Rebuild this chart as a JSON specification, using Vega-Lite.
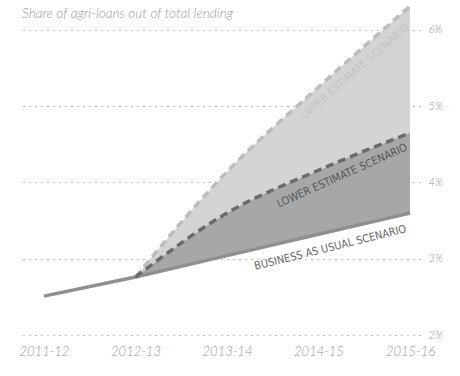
{
  "$schema": "https://vega.github.io/schema/vega-lite/v6.json",
  "width": 400,
  "height": 328,
  "autosize": {"type": "none"},
  "padding": {"left": 20, "top": 7, "right": 40, "bottom": 41},
  "background": "white",
  "config": {"view": {"stroke": null}},
  "datasets": {
    "series": [
      {"year": "2011-12", "t": 0, "bau": 2.51, "lower": null, "upper": null},
      {"year": "2012-13", "t": 1, "bau": 2.76, "lower": 2.76, "upper": 2.76},
      {"year": "2013-14", "t": 2, "bau": 3.04, "lower": 3.6, "upper": 4.14},
      {"year": "2014-15", "t": 3, "bau": 3.32, "lower": 4.16, "upper": 5.25},
      {"year": "2015-16", "t": 4, "bau": 3.6, "lower": 4.65, "upper": 6.31}
    ]
  },
  "layer": [
    {
      "data": {"name": "series"},
      "transform": [{"filter": "datum.upper != null"}],
      "mark": {"type": "area", "color": "#d4d4d4", "interpolate": "monotone", "clip": false},
      "encoding": {
        "x": {
          "field": "t", "type": "quantitative",
          "scale": {"domain": [-0.262, 4.109], "nice": false, "zero": false},
          "axis": {
            "values": [0, 1, 2, 3, 4],
            "labelExpr": "['2011-12','2012-13','2013-14','2014-15','2015-16'][datum.value]",
            "title": null, "domain": false, "ticks": false, "grid": false,
            "labelFont": "Lato", "labelFontSize": 13, "labelFontStyle": "italic", "labelFontWeight": 300,
            "labelColor": "#9a9a9a", "labelPadding": 10, "labelFlush": false
          }
        },
        "y": {
          "field": "upper", "type": "quantitative",
          "scale": {"domain": [2, 6.3], "nice": false, "zero": false},
          "axis": {
            "orient": "right",
            "values": [2, 3, 4, 5, 6],
            "labelExpr": "datum.value + '%'",
            "title": null, "domain": false, "ticks": false,
            "grid": true, "gridDash": [1, 5], "gridColor": "#8a8a8a", "gridWidth": 1,
            "labelFont": "Lato", "labelFontSize": 11, "labelFontStyle": "italic", "labelFontWeight": 300,
            "labelColor": "#9a9a9a", "labelPadding": 8, "labelAlign": "left"
          }
        },
        "y2": {"field": "lower"}
      }
    },
    {
      "data": {"name": "series"},
      "transform": [{"filter": "datum.lower != null"}],
      "mark": {"type": "area", "color": "#a7a7a7", "interpolate": "monotone"},
      "encoding": {
        "x": {"field": "t", "type": "quantitative"},
        "y": {"field": "lower", "type": "quantitative"},
        "y2": {"field": "bau"}
      }
    },
    {
      "data": {"name": "series"},
      "mark": {"type": "line", "color": "#8f8f8f", "strokeWidth": 3.5},
      "encoding": {
        "x": {"field": "t", "type": "quantitative"},
        "y": {"field": "bau", "type": "quantitative"}
      }
    },
    {
      "data": {"name": "series"},
      "transform": [{"filter": "datum.upper != null"}],
      "mark": {"type": "line", "color": "#bcbcbc", "strokeWidth": 3.5, "strokeDash": [8, 5], "interpolate": "monotone", "clip": false},
      "encoding": {
        "x": {"field": "t", "type": "quantitative"},
        "y": {"field": "upper", "type": "quantitative"}
      }
    },
    {
      "data": {"name": "series"},
      "transform": [{"filter": "datum.lower != null"}],
      "mark": {"type": "line", "color": "#6b6b6b", "strokeWidth": 3.5, "strokeDash": [8, 5], "interpolate": "monotone"},
      "encoding": {
        "x": {"field": "t", "type": "quantitative"},
        "y": {"field": "lower", "type": "quantitative"}
      }
    },
    {
      "data": {"values": [{"t": 3.4, "v": 5.45, "label": "UPPER ESTIMATE SCENARIO"}]},
      "mark": {"type": "text", "angle": -41, "font": "'DejaVu Sans Condensed', 'Liberation Sans Narrow', Roboto, sans-serif", "fontSize": 11, "color": "#c2c2c2"},
      "encoding": {
        "x": {"field": "t", "type": "quantitative"},
        "y": {"field": "v", "type": "quantitative"},
        "text": {"field": "label"}
      }
    },
    {
      "data": {"values": [{"t": 3.26, "v": 4.085, "label": "LOWER ESTIMATE SCENARIO"}]},
      "mark": {"type": "text", "angle": -24, "font": "'DejaVu Sans Condensed', 'Liberation Sans Narrow', Roboto, sans-serif", "fontSize": 11, "color": "#555555"},
      "encoding": {
        "x": {"field": "t", "type": "quantitative"},
        "y": {"field": "v", "type": "quantitative"},
        "text": {"field": "label"}
      }
    },
    {
      "data": {"values": [{"t": 3.13, "v": 3.14, "label": "BUSINESS AS USUAL SCENARIO"}]},
      "mark": {"type": "text", "angle": -14, "font": "'DejaVu Sans Condensed', 'Liberation Sans Narrow', Roboto, sans-serif", "fontSize": 11, "color": "#666666"},
      "encoding": {
        "x": {"field": "t", "type": "quantitative"},
        "y": {"field": "v", "type": "quantitative"},
        "text": {"field": "label"}
      }
    },
    {
      "data": {"values": [{"t": -0.24, "v": 6.155, "label": "Share of agri-loans out of total lending"}]},
      "mark": {"type": "text", "align": "left", "baseline": "alphabetic", "font": "Lato", "fontSize": 13.6, "fontStyle": "italic", "fontWeight": 300, "color": "#9a9a9a", "clip": false},
      "encoding": {
        "x": {"field": "t", "type": "quantitative"},
        "y": {"field": "v", "type": "quantitative"},
        "text": {"field": "label"}
      }
    }
  ]
}
